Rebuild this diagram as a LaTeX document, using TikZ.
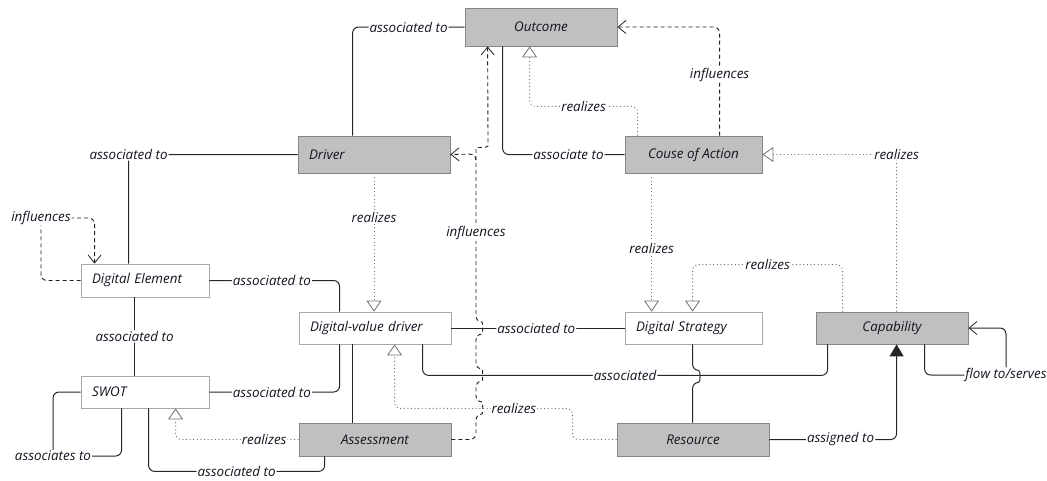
\documentclass[tikz,border=0pt]{standalone}
\usepackage{fontspec}
\setmainfont{Open Sans}
\usetikzlibrary{arrows.meta,calc}
\definecolor{boxgrey}{HTML}{C0C0C0}
\definecolor{boxline}{HTML}{868686}
\definecolor{wline}{HTML}{A8A8A8}
\definecolor{txt}{HTML}{141422}
\definecolor{solidc}{HTML}{262626}
\definecolor{dotc}{HTML}{707070}
\definecolor{dashc}{HTML}{202020}
\tikzset{
  base/.style={font=\fontsize{13.4}{15}\selectfont\itshape, text=txt, inner ysep=0pt, inner xsep=11pt, anchor=center},
  gbox/.style={base, draw=boxline, fill=boxgrey, line width=0.8pt, align=center},
  wbox/.style={base, draw=wline, fill=white, line width=0.8pt, align=left},
  lbl/.style={font=\fontsize{13.4}{15}\selectfont\itshape, text=txt, fill=white, inner sep=1pt},
  assoc/.style={draw=solidc, line width=1pt, rounded corners=6pt},
  realz/.style={draw=dotc, line width=0.9pt, dash pattern=on 1pt off 2.6pt, rounded corners=6pt,
     -{Triangle[open,length=11pt,width=15pt,fill=white,line width=0.8pt]}},
  infl/.style={draw=dashc, line width=0.9pt, dash pattern=on 4pt off 3pt, rounded corners=6pt,
     -{Straight Barb[length=8pt,width=13pt,line width=0.8pt]}},
  barb/.style={-{Straight Barb[length=8pt,width=13pt,line width=0.8pt]}},
}
\begin{document}
\begin{tikzpicture}[x=1pt,y=-1pt]
\useasboundingbox (0,0) rectangle (1047,480);
% nodes
\node[gbox, minimum width=152pt, minimum height=38pt] (out) at (541,27) {Outcome};
\node[gbox, minimum width=152pt, minimum height=37pt, text width=130pt, align=left] (drv) at (374,154.5) {Driver};
\node[gbox, minimum width=137pt, minimum height=37pt] (coa) at (693.5,154.5) {Couse of Action};
\node[wbox, minimum width=128pt, minimum height=33pt, text width=106pt] (de) at (145,280.5) {Digital Element};
\node[wbox, minimum width=128pt, minimum height=32pt, text width=106pt] (swot) at (145,392) {SWOT};
\node[wbox, minimum width=152pt, minimum height=32pt, text width=130pt] (dvd) at (375,328) {Digital-value driver};
\node[gbox, minimum width=152pt, minimum height=33pt] (ass) at (375,439.5) {Assessment};
\node[wbox, minimum width=137pt, minimum height=32pt, text width=115pt] (ds) at (693.5,328) {Digital Strategy};
\node[gbox, minimum width=152pt, minimum height=32pt] (cap) at (892,328) {Capability};
\node[gbox, minimum width=152pt, minimum height=33pt] (res) at (693,439.5) {Resource};

% 1 Outcome - Driver
\draw[assoc] (out.west) -| node[lbl,pos=0.25]{associated to} ($(drv.north west)+(55,0)$);
% 2 Driver - Digital Element
\draw[assoc] (drv.west) -| node[lbl,pos=0.5]{associated to} ($(de.north west)+(48,0)$);
% 3 DE self influences
\draw[infl] (de.west) -| (41,218) node[lbl]{influences} -| ($(de.north west)+(14,0)$);
% 4 DE - SWOT
\draw[assoc] ($(de.south west)+(54,0)$) -- node[lbl]{associated to} ($(swot.north west)+(54,0)$);
% 5 DE - DVD
\draw[assoc] (de.east) -| node[lbl,pos=0.24]{associated to} ($(dvd.north west)+(41,0)$);
% 6 SWOT - DVD
\draw[assoc] (swot.east) -| node[lbl,pos=0.24]{associated to} ($(dvd.south west)+(41,0)$);
% 7 SWOT self
\draw[assoc] (swot.west) -| (53,456) node[lbl]{associates to} -| ($(swot.south west)+(41,0)$);
% 8 SWOT - Assessment
\draw[assoc] ($(swot.south west)+(68,0)$) |- node[lbl,pos=0.75]{associated to} ($(ass.south west)+(26,15)$) -- ($(ass.south west)+(26,0)$);
% 9 Assessment realizes SWOT
\draw[realz] (ass.west) -| node[lbl,pos=0.14]{realizes} ($(swot.south west)+(95,0)$);
% 10 DVD - Assessment
\draw[assoc] ($(dvd.south west)+(54,0)$) -- ($(ass.north west)+(54,0)$);
% 11 Driver realizes DVD
\draw[realz] (drv.south) -- node[lbl,pos=0.32]{realizes} (drv.south |- dvd.north);
% 13 DVD - DS
\draw[assoc] (dvd.east) -- node[lbl,pos=0.49]{associated to} (ds.west);
% 14 DVD - Capability
\draw[assoc] ($(dvd.south west)+(124,0)$) |- node[lbl,pos=0.75]{associated} ($(cap.south west)+(12,31)$) -- ($(cap.south west)+(12,0)$);
% 15 DS - Resource with hop
\draw[assoc] ($(ds.south west)+(68,0)$) -- ($(ds.south west)+(68,26)$) .. controls ($(ds.south west)+(76,26)$) and ($(ds.south west)+(76,38)$) .. ($(ds.south west)+(68,38)$) -- ($(res.north west)+(76,0)$);
% 16 Resource realizes DVD
\draw[realz] (res.west) -| ($(res.west)+(-44,-31)$) -- node[lbl,pos=0.33]{realizes} ($(dvd.south west)+(96,64)$) -- ($(dvd.south west)+(96,0)$);
% 17 Resource assigned to Capability
\draw[assoc,-{Triangle[length=12pt,width=14pt]}] (res.east) -| node[lbl,pos=0.28]{assigned to} ($(cap.south west)+(81,0)$);
% 18 Capability self
\draw[assoc,barb] ($(cap.south west)+(109,0)$) |- (1006,375) node[lbl]{flow to/serves} |- (cap.east);
% 19 Capability realizes DS
\draw[realz] ($(cap.north west)+(27,0)$) |- node[lbl,pos=0.75]{realizes} ($(ds.north west)+(68,-47)$) -- ($(ds.north west)+(68,0)$);
% 20 CoA realizes DS
\draw[realz] ($(coa.south west)+(27,0)$) -- node[lbl,pos=0.54]{realizes} ($(ds.north west)+(27,0)$);
% 21 Capability realizes CoA
\draw[realz] ($(cap.north west)+(81,0)$) |- node[lbl,pos=0.5]{realizes} (coa.east);
% 22 CoA influences Outcome
\draw[infl] ($(coa.north west)+(95,0)$) |- node[lbl,pos=0.28]{influences} (out.east);
% 23 CoA realizes Outcome
\draw[realz] ($(coa.north west)+(13,0)$) |- node[lbl,pos=0.75]{realizes} ($(out.south west)+(65,60)$) -- ($(out.south west)+(65,0)$);
% 24 Outcome associate to CoA
\draw[assoc] ($(out.south west)+(38,0)$) |- node[lbl,pos=0.77]{associate to} (coa.west);
% 12 Assessment influences Driver / Outcome
\draw[infl] (ass.east) -| (476,414) .. controls (483,414) and (483,402) .. (476,402) -- (476,381)
  .. controls (483,381) and (483,369) .. (476,369) -- (476,334)
  .. controls (483,334) and (483,322) .. (476,322) -- (476,154) -- (drv.east);
\draw[infl] (476,160) -- (476,154) .. controls (476,147) and (488,148) .. (488,140) -- ($(out.south west)+(23,0)$);
\node[lbl] (inflab) at (476,233) {influences};
\end{tikzpicture}
\end{document}
